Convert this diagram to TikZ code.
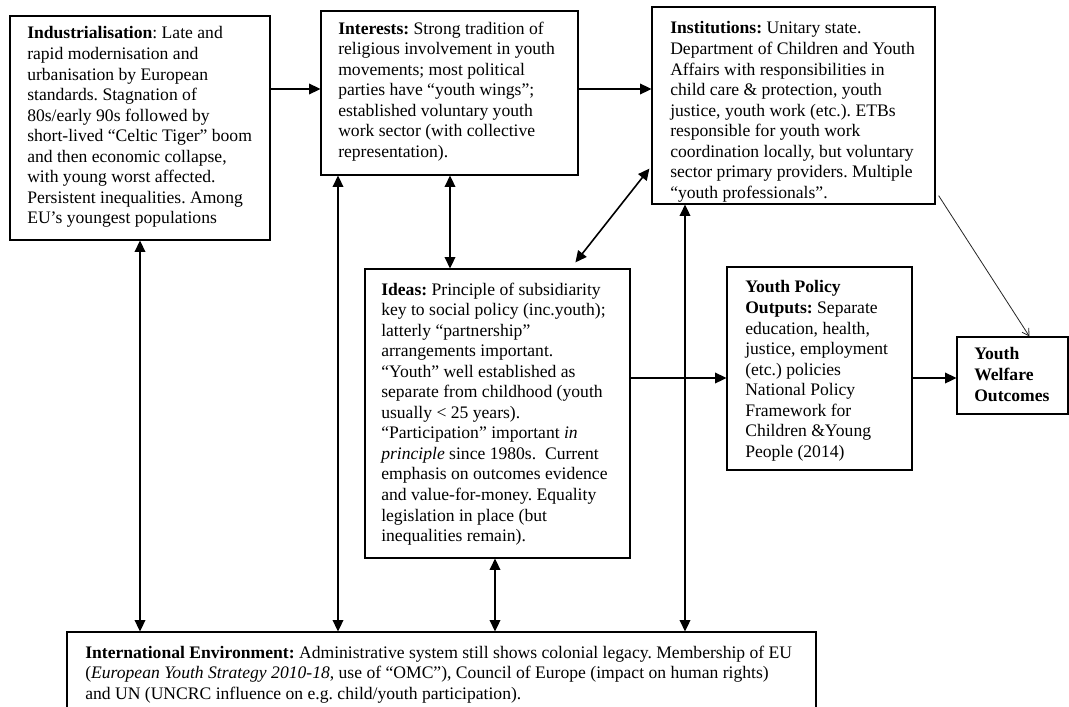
\documentclass[tikz,border=0pt]{standalone}
\usepackage{fontspec}
\setmainfont{Liberation Serif}
\usetikzlibrary{arrows.meta,calc,fit}
\begin{document}
\frenchspacing
\begin{tikzpicture}[x=0.75pt,y=-0.75pt,
  box/.style={draw=black, line width=0.9pt, inner sep=0pt},
  txt/.style={anchor=north west, inner sep=0pt, align=left, font=\fontsize{13.2}{15.4}\selectfont},
  dbl/.style={{Triangle[length=8.5pt,width=8pt]}-{Triangle[length=8.5pt,width=8pt]}, line width=1.2pt},
  arr/.style={-{Triangle[length=8.5pt,width=8pt]}, line width=1.2pt},
  thinarr/.style={-{Straight Barb[length=5pt,width=6pt]}, line width=0.6pt, draw=black!85}]
\useasboundingbox[fill=white] (0,0) rectangle (1069,706);

% boxes
\node[box, fit={(10,16) (270,240)}] (ind) {};
\node[box, fit={(321,11) (578,175)}] (int) {};
\node[box, fit={(652,7) (935,204)}] (inst) {};
\node[box, fit={(365,269) (630,558)}] (ideas) {};
\node[box, fit={(727,267) (912,470)}] (ypo) {};
\node[box, fit={(957,337) (1068,414)}] (ywo) {};
\node[box, fit={(67,632) (816,720)}] (intl) {};

% texts
\node[txt] (indT) at (27,26.5) {\textbf{Industrialisation}: Late and\\
rapid modernisation and\\
urbanisation by European\\
standards. Stagnation of\\
80s/early 90s followed by\\
short-lived “Celtic Tiger” boom\\
and then economic collapse,\\
with young worst affected.\\
Persistent inequalities. Among\\
EU’s youngest populations};

\node[txt] (intT) at (338,21.5) {\textbf{Interests:} Strong tradition of\\
religious involvement in youth\\
movements; most political\\
parties have “youth wings”;\\
established voluntary youth\\
work sector (with collective\\
representation).};

\node[txt] (instT) at (670,21.5) {\textbf{Institutions:} Unitary state.\\
Department of Children and Youth\\
Affairs with responsibilities in\\
child care \& protection, youth\\
justice, youth work (etc.). ETBs\\
responsible for youth work\\
coordination locally, but voluntary\\
sector primary providers. Multiple\\
“youth professionals”.};

\node[txt] (ideasT) at (381,282.5) {\textbf{Ideas:} Principle of subsidiarity\\
key to social policy (inc.youth);\\
latterly “partnership”\\
arrangements important.\\
“Youth” well established as\\
separate from childhood (youth\\
usually < 25 years).\\
“Participation” important \textit{in}\\
\textit{principle} since 1980s.\ \ Current\\
emphasis on outcomes evidence\\
and value-for-money. Equality\\
legislation in place (but\\
inequalities remain).};

\node[txt] (ypoT) at (745,280.5) {\textbf{Youth Policy}\\
\textbf{Outputs:} Separate\\
education, health,\\
justice, employment\\
(etc.) policies\\
National Policy\\
Framework for\\
Children \&Young\\
People (2014)};

\node[txt] (ywoT) at (974,347.5) {\textbf{Youth}\\
\textbf{Welfare}\\
\textbf{Outcomes}};

\node[txt] (intlT) at (85,645.5) {\textbf{International Environment:} Administrative system still shows colonial legacy. Membership of EU\\
(\textit{European Youth Strategy 2010-18}, use of “OMC”), Council of Europe (impact on human rights)\\
and UN (UNCRC influence on e.g. child/youth participation).};

% helper coordinates
\coordinate (ya) at (0,89);
\coordinate (yb) at (0,378);
\coordinate (xa) at (140,0);
\coordinate (xb) at (338,0);
\coordinate (xc) at (450,0);
\coordinate (xd) at (495,0);
\coordinate (xe) at (685,0);

% connectors
\draw[arr] (ind.east |- ya) -- (int.west |- ya);
\draw[arr] (int.east |- ya) -- (inst.west |- ya);
\draw[dbl] (xa |- ind.south) -- (xa |- intl.north);
\draw[dbl] (xb |- int.south) -- (xb |- intl.north);
\draw[dbl] (xc |- int.south) -- (xc |- ideas.north);
\draw[dbl] (xd |- ideas.south) -- (xd |- intl.north);
\draw[dbl] (xe |- inst.south) -- (xe |- intl.north);
\draw[dbl] ($(ideas.north west)+(211,-6)$) -- ($(inst.south west)+(-2,-36)$);
\draw[arr] (ideas.east |- yb) -- (ypo.west |- yb);
\draw[arr] (ypo.east |- yb) -- (ywo.west |- yb);
\draw[thinarr] ($(inst.south east)+(3,-9)$) -- ($(ywo.north west)+(73,0)$);
\end{tikzpicture}
\end{document}
